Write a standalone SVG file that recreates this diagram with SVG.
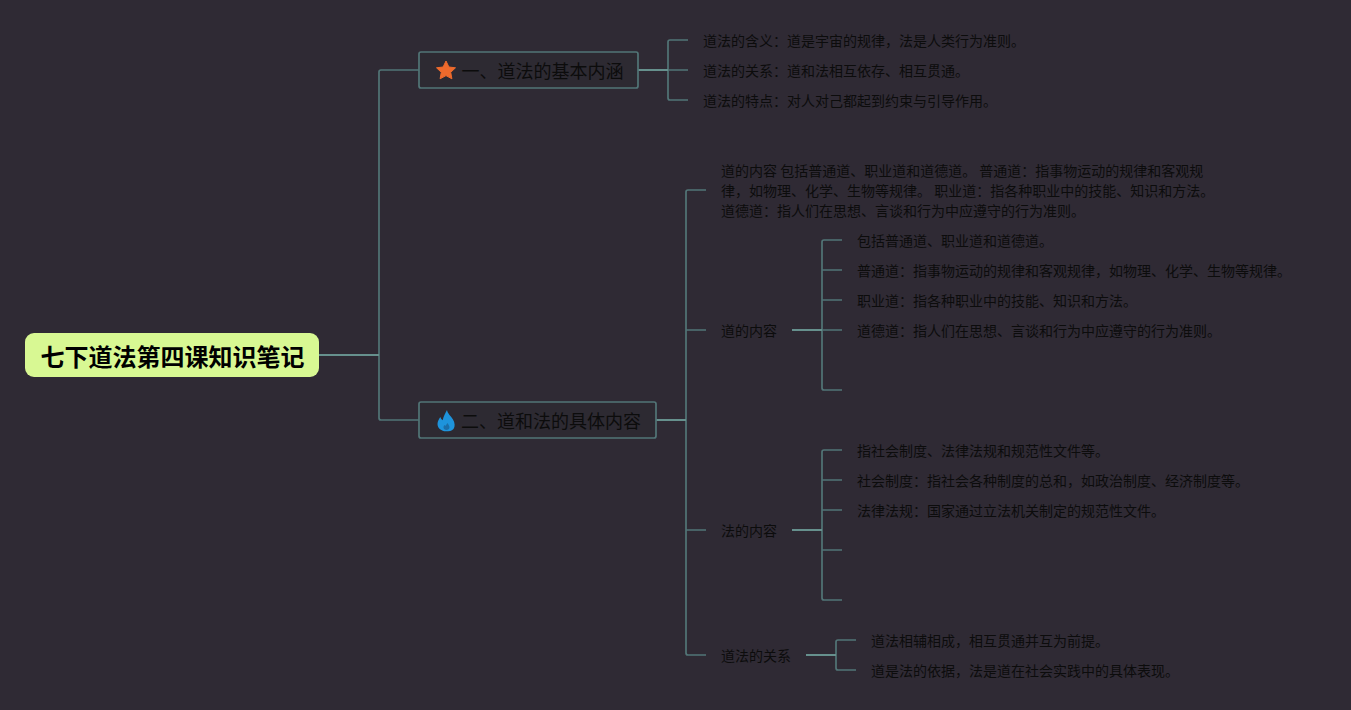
<svg xmlns="http://www.w3.org/2000/svg" width="1351" height="710" viewBox="0 0 1351 710">
<style>
text{font-family:"Noto Sans CJK SC","Liberation Sans",sans-serif;fill:#0c0c0c}
.l{font-size:14px}
.t{font-size:18px}
.r{font-size:24px;font-weight:700;fill:#000}
.c{fill:none;stroke:#527577;stroke-width:1.7;stroke-linejoin:round}
.s{fill:none;stroke:#66908d;stroke-width:1.8}
.b{fill:#2d2a32;stroke:#527577;stroke-width:1.7}
</style>
<rect width="1351" height="710" fill="#2f2a34"/>
<g id="connectors">
<path class="c" d="M419 70H381Q379 70 379 72V418Q379 420 381 420H419"/>
<path class="c" d="M688 40H670Q668 40 668 42V98Q668 100 670 100H688M668 70H688"/>
<path class="c" d="M706 190H688Q686 190 686 192V653Q686 655 688 655H706M686 330H706M686 530H706"/>
<path class="c" d="M842 240H824Q822 240 822 242V388Q822 390 824 390H842M822 270H842M822 300H842M822 330H842"/>
<path class="c" d="M842 450H824Q822 450 822 452V598Q822 600 824 600H842M822 480H842M822 510H842M822 550H842"/>
<path class="c" d="M856 640H838Q836 640 836 642V668Q836 670 838 670H856"/>
<path class="s" d="M319 355H379M638 70H668M656 420H686M792 330H822M792 530H822M806 655H836"/>
</g>
<g id="root"><rect x="25" y="333" width="294" height="44" rx="9" fill="#d8f893"/><text class="r" x="40.500" y="366">七下道法第四课知识笔记</text></g>
<g id="topic1"><rect class="b" x="419" y="52" width="219" height="36" rx="2"/>
<path d="M446 61l2.900 6 6.600.8-4.800 4.500 1.200 6.500-5.900-3.200-5.900 3.200 1.200-6.500-4.800-4.500 6.600-.8z" fill="#ee6a2c" stroke="#ee6a2c" stroke-width="1" stroke-linejoin="round"/>
<text class="t" x="461.500" y="77.500">一、道法的基本内涵</text></g>
<g id="topic2"><rect class="b" x="419" y="402" width="237" height="36" rx="2"/>
<path d="M447 410c.8 4 4 6 6 9.500 2 3.500 2.200 7 .5 9.500-1.800 2-4.500 2.300-7.500 2.300-4.500 0-8.500-3-8.500-7.300 0-3 1.600-5 2.800-7 .6 1.500 1.200 2.500 2.400 3.200 .8-3.500 2.500-6.700 4.300-10.200z" fill="#1e94dc"/>
<path d="M447.500 423c.8 1.500 2 2.800 2 4.500 0 1.500-1.400 2.500-3 2.500s-3-1-3-2.500c0-1 .6-1.900 1.200-2.500.4.400.8.600 1.100.8.200-1 .9-1.800 1.700-2.800z" fill="#1b6ea8"/>
<text class="t" x="461" y="427.500">二、道和法的具体内容</text></g>
<g id="n1"><text class="l" x="703" y="46">道法的含义：道是宇宙的规律，法是人类行为准则。</text></g>
<g id="n2"><text class="l" x="703" y="76">道法的关系：道和法相互依存、相互贯通。</text></g>
<g id="n3"><text class="l" x="703" y="106">道法的特点：对人对己都起到约束与引导作用。</text></g>
<g id="n4"><text class="l" x="721" y="176">道的内容 包括普通道、职业道和道德道。 普通道：指事物运动的规律和客观规</text><text class="l" x="721" y="196">律，如物理、化学、生物等规律。 职业道：指各种职业中的技能、知识和方法。</text><text class="l" x="721" y="216">道德道：指人们在思想、言谈和行为中应遵守的行为准则。</text></g>
<g id="n5"><text class="l" x="721" y="336">道的内容</text></g>
<g id="n6"><text class="l" x="857" y="246">包括普通道、职业道和道德道。</text></g>
<g id="n7"><text class="l" x="857" y="276">普通道：指事物运动的规律和客观规律，如物理、化学、生物等规律。</text></g>
<g id="n8"><text class="l" x="857" y="306">职业道：指各种职业中的技能、知识和方法。</text></g>
<g id="n9"><text class="l" x="857" y="336">道德道：指人们在思想、言谈和行为中应遵守的行为准则。</text></g>
<g id="n10"><text class="l" x="721" y="536">法的内容</text></g>
<g id="n11"><text class="l" x="857" y="456">指社会制度、法律法规和规范性文件等。</text></g>
<g id="n12"><text class="l" x="857" y="486">社会制度：指社会各种制度的总和，如政治制度、经济制度等。</text></g>
<g id="n13"><text class="l" x="857" y="516">法律法规：国家通过立法机关制定的规范性文件。</text></g>
<g id="n14"><text class="l" x="721" y="661">道法的关系</text></g>
<g id="n15"><text class="l" x="871" y="646">道法相辅相成，相互贯通并互为前提。</text></g>
<g id="n16"><text class="l" x="871" y="676">道是法的依据，法是道在社会实践中的具体表现。</text></g>
</svg>
